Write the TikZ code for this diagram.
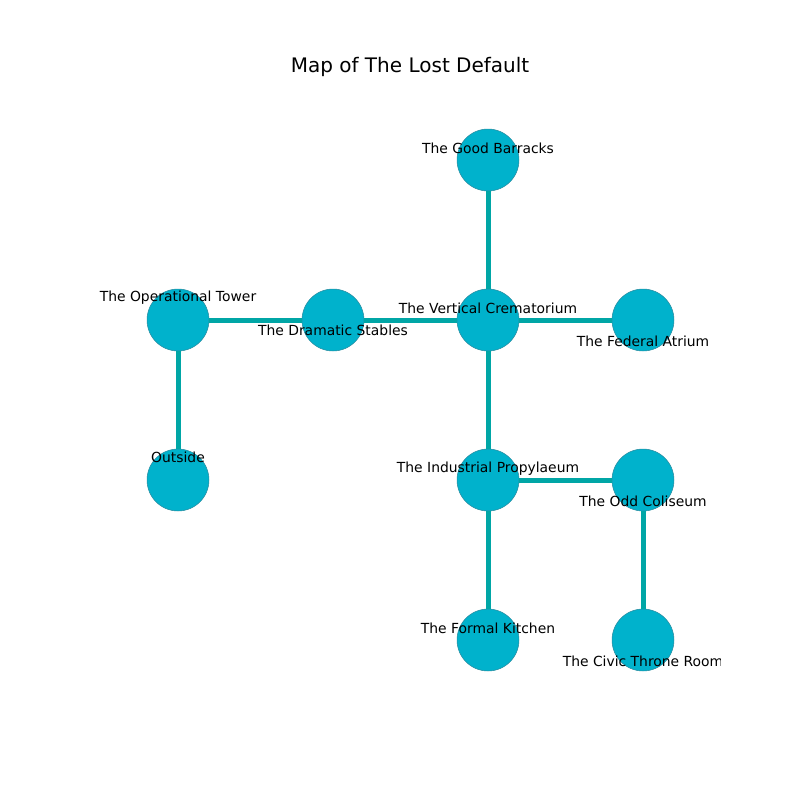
\documentclass[tikz,border=0pt]{standalone}
\usepackage{fontspec}
\setmainfont{DejaVu Sans}
\usetikzlibrary{calc}
\definecolor{roomfill}{RGB}{0,178,204}
\definecolor{roomedge}{RGB}{40,140,160}
\definecolor{corridor}{RGB}{0,166,166}

\begin{document}
\begin{tikzpicture}[x=0.72pt,y=-0.72pt,
        room/.style={circle,fill=roomfill,draw=roomedge,line width=0.4pt,minimum size=44.6pt,inner sep=0pt},
        corr/.style={draw=corridor,line width=3.6pt},
        lbl/.style={font=\fontsize{10}{12}\selectfont,inner sep=0pt}]
            \useasboundingbox (0,0) rectangle (800,800);

            \node (title) at (410,67) [font=\fontsize{14.4}{17}\selectfont] {Map of The Lost Default};

            % rooms
            \node (GB) at (488,160) [room] {};
            \node (OT) at (178,320) [room] {};
            \node (DS) at (333,320) [room] {};
            \node (VC) at (488,320) [room] {};
            \node (FA) at (643,320) [room] {};
            \node (OU) at (178,480) [room] {};
            \node (IP) at (488,480) [room] {};
            \node (OC) at (643,480) [room] {};
            \node (FK) at (488,640) [room] {};
            \node (CT) at (643,640) [room] {};

            % corridors
            \foreach \a/\b in {GB/VC, OT/DS, DS/VC, VC/FA, OT/OU, VC/IP, IP/OC, IP/FK, OC/CT}
                {
                    \draw [corr] (\a) -- (\b);
                }

            % names
            \foreach \n/\dy/\txt in {GB/-12/The Good Barracks, OT/-22/The Operational Tower,
                    DS/10/The Dramatic Stables, VC/-12/The Vertical Crematorium,
                    FA/21/The Federal Atrium, OU/-23/Outside,
                    IP/-11/The Industrial Propylaeum, OC/21/The Odd Coliseum,
                    FK/-12/The Formal Kitchen}
                {
                    \node (\n-name) at ($(\n) + (0,\dy)$) [lbl] {\txt};
                }

            \begin{scope}
                \clip (0,0) rectangle (720,800);
                \node (CT-name) at ($(CT) + (0,21)$) [lbl] {The Civic Throne Room};
            \end{scope}

        \end{tikzpicture}
\end{document}
